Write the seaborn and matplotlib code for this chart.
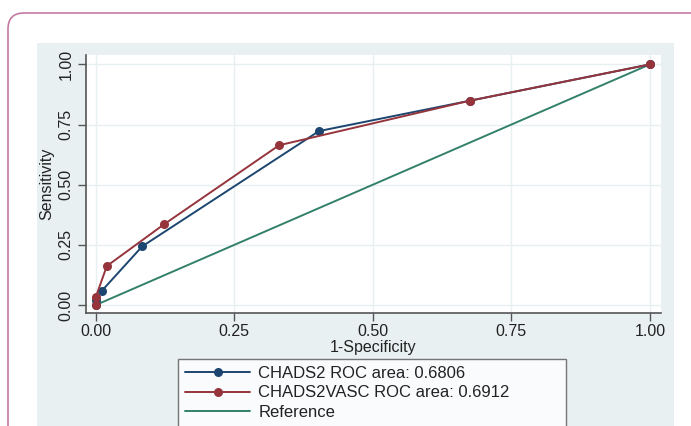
import matplotlib
matplotlib.use("Agg")
import matplotlib.pyplot as plt
from matplotlib.patches import FancyBboxPatch, Rectangle
from matplotlib.lines import Line2D
from matplotlib.transforms import IdentityTransform
import seaborn as sns
import pandas as pd

# ---- data ----
chads2_fpr = [0.0, 0.0, 0.011, 0.084, 0.403, 0.675, 1.0]
chads2_tpr = [0.0, 0.02, 0.059, 0.244, 0.723, 0.849, 1.0]
vasc_fpr = [0.0, 0.0, 0.020, 0.123, 0.331, 0.675, 1.0]
vasc_tpr = [0.0, 0.032, 0.162, 0.335, 0.664, 0.849, 1.0]
ref_x = [0.0, 1.0]
ref_y = [0.0, 1.0]
labels = ["CHADS2 ROC area: 0.6806", "CHADS2VASC ROC area: 0.6912", "Reference"]
ticks = [0.0, 0.25, 0.5, 0.75, 1.0]
tick_labels = ["0.00", "0.25", "0.50", "0.75", "1.00"]

BLUE = "#1c4670"
RED = "#96343c"
GREEN = "#33806a"
TXT = "#222222"

sns.set_theme(style="white")
plt.rcParams["font.family"] = ["Liberation Sans", "DejaVu Sans"]

W, H = 691, 426
fig = plt.figure(figsize=(W / 100, H / 100), dpi=100)
fig.patch.set_facecolor("white")

# outer card border
card = FancyBboxPatch((8, -60), 760, (H - 13) + 60,
                      boxstyle="round,pad=0,rounding_size=16",
                      transform=IdentityTransform(), facecolor="none",
                      edgecolor="#c27aa2", linewidth=1.2, zorder=0)
fig.add_artist(card)

# Stata-like graph region
greg = Rectangle((37 / W, 0), (674 - 37) / W, 1 - 43 / H,
                 transform=fig.transFigure, facecolor="#e9f0f2",
                 edgecolor="none", zorder=0.5)
fig.add_artist(greg)

# plot region
ax = fig.add_axes([86 / W, 1 - 313 / H, (661 - 86) / W, (313 - 55) / H])
ax.set_facecolor("white")
ax.set_zorder(1)

df_ref = pd.DataFrame({"x": ref_x, "y": ref_y})
df_c = pd.DataFrame({"x": chads2_fpr, "y": chads2_tpr})
df_v = pd.DataFrame({"x": vasc_fpr, "y": vasc_tpr})

LW = 1.4
MS = 6.5
sns.lineplot(data=df_ref, x="x", y="y", ax=ax, color=GREEN, lw=LW,
             sort=False, estimator=None)
sns.lineplot(data=df_c, x="x", y="y", ax=ax, color=BLUE, lw=LW,
             marker="o", markersize=MS, markeredgewidth=0,
             sort=False, estimator=None)
sns.lineplot(data=df_v, x="x", y="y", ax=ax, color=RED, lw=LW,
             marker="o", markersize=MS, markeredgewidth=0,
             sort=False, estimator=None)

ax.set_xlim(-0.0175, 1.02)
ax.set_ylim(-0.033, 1.039)
ax.set_xticks(ticks)
ax.set_xticklabels(tick_labels)
ax.set_yticks(ticks)
ax.set_yticklabels(tick_labels, rotation=90, va="center")
ax.grid(True, color="#e8eff1", lw=1.0)
ax.set_axisbelow(True)

for s in ["top", "right"]:
    ax.spines[s].set_visible(False)
for s in ["left", "bottom"]:
    ax.spines[s].set_color("#555555")
    ax.spines[s].set_linewidth(1.2)

ax.tick_params(axis="both", which="major", direction="out", length=6,
               width=1.0, color="#555555", labelsize=11.5,
               labelcolor=TXT, left=True, bottom=True)
ax.tick_params(axis="x", pad=2)
ax.tick_params(axis="y", pad=3)

ax.set_xlabel("1-Specificity", fontsize=11.5, color=TXT, labelpad=0.5)
ax.set_ylabel("Sensitivity", fontsize=11.5, color=TXT, labelpad=3)

handles = [
    Line2D([], [], color=BLUE, lw=LW, marker="o", markersize=MS, markeredgewidth=0),
    Line2D([], [], color=RED, lw=LW, marker="o", markersize=MS, markeredgewidth=0),
    Line2D([], [], color=GREEN, lw=LW),
]
ytop = 1 - 359 / H
leg = fig.legend(handles, labels, loc="upper left",
                 bbox_to_anchor=(178 / W, ytop - 0.01, (566 - 178) / W, 0.01),
                 bbox_transform=fig.transFigure, mode="expand",
                 fontsize=12, frameon=True, fancybox=False,
                 handlelength=3.9, handletextpad=0.5, labelspacing=0.26,
                 borderpad=0.42, borderaxespad=0)
leg.get_frame().set_edgecolor("#555555")
leg.get_frame().set_linewidth(1.0)
leg.get_frame().set_facecolor("white")
for t in leg.get_texts():
    t.set_color(TXT)

fig.savefig("out.png", dpi=100)
